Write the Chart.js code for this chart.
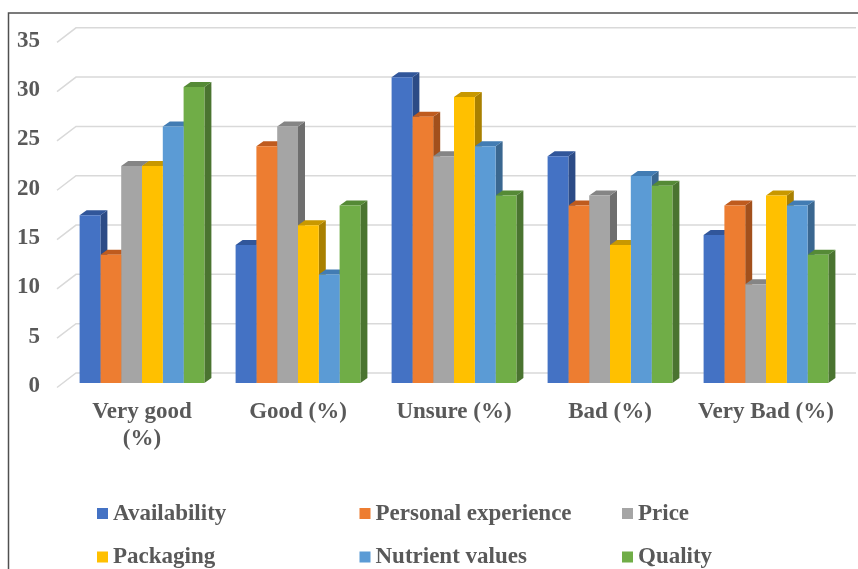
<!DOCTYPE html>
<html>
<head>
<meta charset="utf-8">
<script src="https://cdn.jsdelivr.net/npm/chart.js@4"></script>
<style>
  body { margin: 0; background: #fff; }
</style>
</head>
<body>
<canvas id="chart" width="858" height="569"></canvas>
<script>
// categories and series
const categories = [["Very good", "(%)"], "Good (%)", "Unsure (%)", "Bad (%)", "Very Bad (%)"];
const seriesNames = ["Availability", "Personal experience", "Price", "Packaging", "Nutrient values", "Quality"];
const availability = [17, 14, 31, 23, 15];
const personalExperience = [13, 24, 27, 18, 18];
const price = [22, 26, 23, 19, 10];
const packaging = [22, 16, 29, 14, 19];
const nutrientValues = [26, 11, 24, 21, 18];
const quality = [30, 18, 19, 20, 13];
const yTicks = [0, 5, 10, 15, 20, 25, 30, 35];

// colours: front, top, side
const frontColors = ["#4472C4", "#ED7D31", "#A5A5A5", "#FFC000", "#5B9BD5", "#70AD47"];
const topColors = ["#31569A", "#BF5B1E", "#858585", "#C89800", "#427CB3", "#558A36"];
const sideColors = ["#2C4B86", "#A2501C", "#6E6E6E", "#A98000", "#3A6790", "#4A7430"];

const FONT = "'Liberation Serif', 'Times New Roman', serif";
const TEXT = "#595959";
const DX = 7, DY = -5;

const allSeries = [availability, personalExperience, price, packaging, nutrientValues, quality];

const threeD = {
  id: "threeD",
  beforeDatasetsDraw(chart) {
    const ctx = chart.ctx;
    const y = chart.scales.y;
    const area = chart.chartArea;
    // back wall gridlines with floor diagonal
    ctx.save();
    ctx.strokeStyle = "#d9d9d9";
    ctx.lineWidth = 1.5;
    yTicks.forEach(v => {
      const py = y.getPixelForValue(v);
      ctx.beginPath();
      ctx.moveTo(area.left - 7, py + 4.5);
      ctx.lineTo(area.left + 12, py - 10);
      ctx.lineTo(area.right + 12, py - 10);
      ctx.stroke();
    });
    // top and side faces, left to right
    const metas = chart.data.datasets.map((d, i) => chart.getDatasetMeta(i));
    for (let j = 0; j < categories.length; j++) {
      metas.forEach((meta, i) => {
        const el = meta.data[j];
        const p = el.getProps(["x", "y", "base", "width"], true);
        const l = p.x - p.width / 2, r = p.x + p.width / 2;
        ctx.fillStyle = sideColors[i];
        ctx.beginPath();
        ctx.moveTo(r, p.y);
        ctx.lineTo(r + DX, p.y + DY);
        ctx.lineTo(r + DX, p.base + DY);
        ctx.lineTo(r, p.base);
        ctx.closePath();
        ctx.fill();
        ctx.fillStyle = topColors[i];
        ctx.beginPath();
        ctx.moveTo(l, p.y);
        ctx.lineTo(l + DX, p.y + DY);
        ctx.lineTo(r + DX, p.y + DY);
        ctx.lineTo(r, p.y);
        ctx.closePath();
        ctx.fill();
      });
    }
    ctx.restore();
  },
  afterDraw(chart) {
    const ctx = chart.ctx;
    ctx.save();
    // frame
    ctx.strokeStyle = "#505050";
    ctx.lineWidth = 1.5;
    ctx.beginPath();
    ctx.moveTo(8.5, 569);
    ctx.lineTo(8.5, 13);
    ctx.lineTo(858, 13);
    ctx.stroke();
    // legend in a 3-column grid
    ctx.font = "bold 23px " + FONT;
    ctx.textBaseline = "middle";
    seriesNames.forEach((name, i) => {
      const bx = 97 + (i % 3) * 262.5;
      const cy = 513 + Math.floor(i / 3) * 43.5;
      ctx.fillStyle = frontColors[i];
      ctx.fillRect(bx, cy - 5, 11, 11);
      ctx.fillStyle = TEXT;
      ctx.fillText(name, bx + 16, cy + 1);
    });
    ctx.restore();
  }
};

new Chart(document.getElementById("chart"), {
  type: "bar",
  data: {
    labels: categories,
    datasets: allSeries.map((values, i) => ({
      label: seriesNames[i],
      data: values,
      backgroundColor: frontColors[i],
      borderWidth: 0,
      categoryPercentage: 0.8,
      barPercentage: 1.0
    }))
  },
  options: {
    responsive: false,
    animation: false,
    layout: { padding: { left: 8, right: 14, top: 35, bottom: 106 } },
    plugins: {
      legend: { display: false },
      tooltip: { enabled: false }
    },
    scales: {
      x: {
        grid: { display: false, drawTicks: false },
        border: { display: false },
        ticks: {
          color: TEXT,
          font: { family: FONT, size: 23, weight: "bold", lineHeight: 1.17 },
          padding: 16,
          maxRotation: 0,
          autoSkip: false
        },
        afterFit(scale) { scale.height = 80; }
      },
      y: {
        min: 0,
        max: 35,
        grid: { display: false, drawTicks: false },
        border: { display: false },
        ticks: {
          stepSize: 5,
          color: TEXT,
          font: { family: FONT, size: 23, weight: "bold" },
          padding: 24,
          labelOffset: 3
        },
        afterFit(scale) { scale.width = 56; }
      }
    }
  },
  plugins: [threeD]
});
</script>
</body>
</html>
